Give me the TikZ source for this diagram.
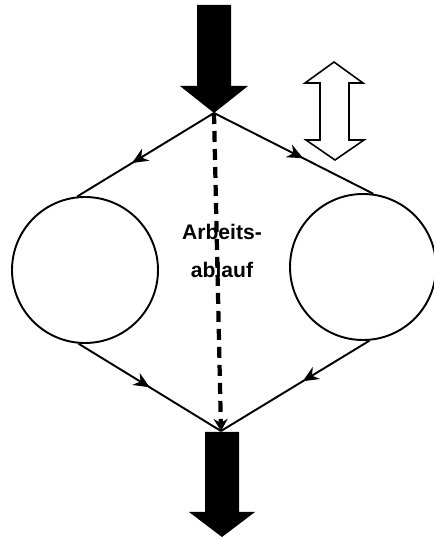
\documentclass[tikz,border=0pt]{standalone}
\usepackage{fontspec}
\setmainfont{Liberation Sans}
\usetikzlibrary{arrows.meta,decorations.markings}

\begin{document}
\begin{tikzpicture}[
    x=0.2mm, y=0.2mm,
    ring/.style={circle, draw, line width=1.1pt, minimum size=29.2mm, inner sep=0pt},
    flowline/.style={line width=1.1pt},
    midarrow/.style={flowline, decoration={markings, mark=at position #1 with {\arrow{Stealth[length=3.2mm, width=2.8mm]}}}, postaction={decorate}},
    dashflow/.style={line width=2.4pt, dash pattern=on 2.2mm off 1.4mm, -{Stealth[length=2.4mm, width=2.8mm]}},
    blockarrow/.style={fill=black},
    hollowarrow/.style={draw, line width=0.9pt, fill=white}
]
\useasboundingbox (0,0) rectangle (434,540);

% Points and circles
\coordinate (tip) at (214,427);
\coordinate (base) at (221,109);
\node[ring] (lring) at (85,270) {};
\node[ring] (rring) at (363,273) {};

% Label
\node[font=\bfseries\fontsize{12}{21.6}\selectfont, align=center] (label) at (222,289) {Arbeits-\\ablauf};

% Big arrows in and out
\fill[blockarrow] (tip) -- (180,454) -- (197,454) -- (197,535) -- (231,535) -- (231,454) -- (248,454) -- cycle;
\fill[blockarrow] (205,108) -- (239,108) -- (239,28) -- (255,28) -- (222,3) -- (189,28) -- (205,28) -- cycle;

% Up/down arrow
\draw[hollowarrow] (334,478) -- (305,457) -- (320,457) -- (320,400) -- (306,400) -- (335,380) -- (364,400) -- (349,400) -- (349,457) -- (363,457) -- cycle;

% Connectors
\draw[midarrow=0.6] (tip) -- (lring.96);
\draw[midarrow=0.56] (tip) -- (rring.82);
\draw[midarrow=0.5] (lring.265) -- (base);
\draw[midarrow=0.45] (rring.275) -- (base);

% Dashed flow
\draw[dashflow] (tip) -- (base);

\end{tikzpicture}
\end{document}
